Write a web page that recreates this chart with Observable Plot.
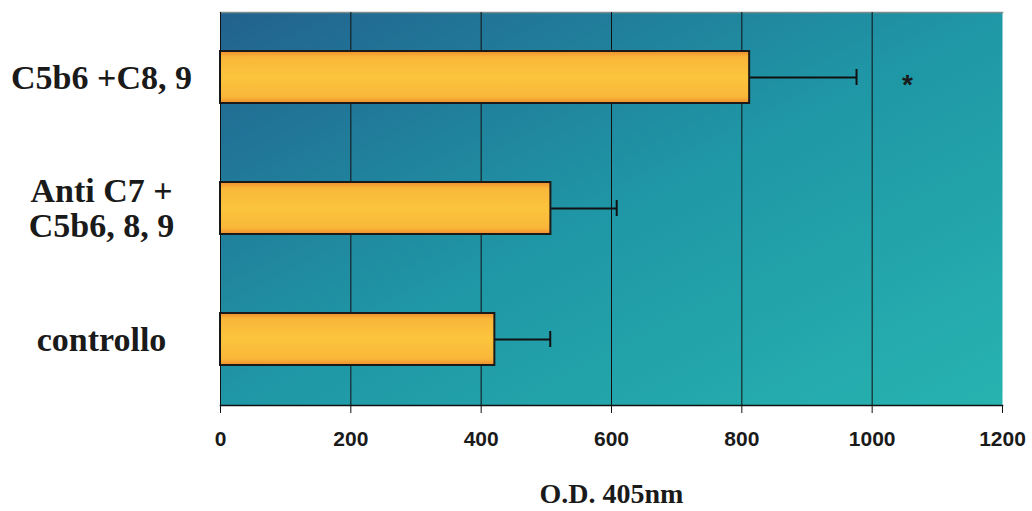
<!DOCTYPE html>
<html>
<head>
<meta charset="utf-8">
<script src="https://cdn.jsdelivr.net/npm/d3@7"></script>
<script src="https://cdn.jsdelivr.net/npm/@observablehq/plot@0.6"></script>
<style>
  html, body { margin: 0; padding: 0; background: #fff; }
  #chart svg { display: block; }
</style>
</head>
<body>
<div id="chart"></div>
<script>
const categories = ["C5b6 +C8, 9", "Anti C7 +\nC5b6, 8, 9", "controllo"];
const values = [812, 507, 421];
const errors = [164, 101, 85];
const marks = ["*", "", ""];
const markX = [1054, null, null];
const xTicks = [0, 200, 400, 600, 800, 1000, 1200];
const gridTicks = [200, 400, 600, 800, 1000];
const xTitle = "O.D. 405nm";

const data = categories.map((c, i) => ({
  cat: c, value: values[i], err: values[i] + errors[i], mark: marks[i], mx: markX[i]
}));

const svg = Plot.plot({
  width: 1032,
  height: 511,
  marginLeft: 220,
  marginRight: 30,
  marginTop: 12,
  marginBottom: 106,
  style: { background: "transparent", overflow: "visible" },
  x: { domain: [0, 1200] },
  y: { domain: categories, paddingInner: 0.6, paddingOuter: 0.3 },
  marks: [
    Plot.frame({ fill: "url(#bgGrad)", stroke: null }),
    Plot.frame({ anchor: "top", stroke: "#7c8c8c", strokeWidth: 1.5 }),
    Plot.ruleX(gridTicks, { stroke: "#111", strokeWidth: 1 }),
    Plot.link(data, { x1: "value", x2: "err", y1: "cat", y2: "cat", stroke: "#111", strokeWidth: 2 }),
    Plot.tickX(data, { x: "err", y: "cat", stroke: "#111", strokeWidth: 2, insetTop: 18, insetBottom: 18 }),
    Plot.barX(data, { x: "value", y: "cat", fill: "url(#barGrad)", stroke: "#1a1a1a", strokeWidth: 2 }),
    Plot.text(data.filter(d => d.mark), { x: "mx", y: "cat", text: "mark", fontSize: 28, fontWeight: "bold", fill: "#1a1a1a", fontFamily: "Liberation Sans", dy: 8 }),
    Plot.frame({ anchor: "bottom", stroke: "#111", strokeWidth: 1.5 }),
    Plot.frame({ anchor: "left", stroke: "#111", strokeWidth: 1 }),
    Plot.axisX({
      ticks: xTicks, tickFormat: d => String(d), tickSize: 8, tickPadding: 18, stroke: "#111",
      fontSize: 21, fontWeight: "bold", fontFamily: "Liberation Sans", fill: "#1a1a1a",
      label: xTitle, labelAnchor: "center", labelArrow: "none", labelOffset: 97
    }),
    Plot.axisY({
      tickSize: 0, textAnchor: "middle", dx: -110, fontSize: 34, fontWeight: "bold",
      fontFamily: "Liberation Serif", fill: "#1a1a1a", lineHeight: 1.02, label: null
    })
  ]
});

const defs = d3.select(svg).insert("defs", ":first-child");
const bg = defs.append("linearGradient").attr("id", "bgGrad")
  .attr("x1", 0).attr("y1", 0).attr("x2", 1).attr("y2", 1);
bg.append("stop").attr("offset", "0%").attr("stop-color", "#22628e");
bg.append("stop").attr("offset", "50%").attr("stop-color", "#1f97a6");
bg.append("stop").attr("offset", "100%").attr("stop-color", "#27b3b0");
const bar = defs.append("linearGradient").attr("id", "barGrad")
  .attr("x1", 0).attr("y1", 0).attr("x2", 0).attr("y2", 1);
bar.append("stop").attr("offset", "0%").attr("stop-color", "#ee8f2c");
bar.append("stop").attr("offset", "12%").attr("stop-color", "#f9b73a");
bar.append("stop").attr("offset", "50%").attr("stop-color", "#fcc43c");
bar.append("stop").attr("offset", "88%").attr("stop-color", "#f9b73a");
bar.append("stop").attr("offset", "100%").attr("stop-color", "#ee8f2c");

d3.select(svg).selectAll("g[aria-label='x-axis label'] text")
  .attr("font-family", "Liberation Serif").attr("font-size", 28).attr("font-weight", "bold");

document.getElementById("chart").appendChild(svg);
</script>
</body>
</html>
